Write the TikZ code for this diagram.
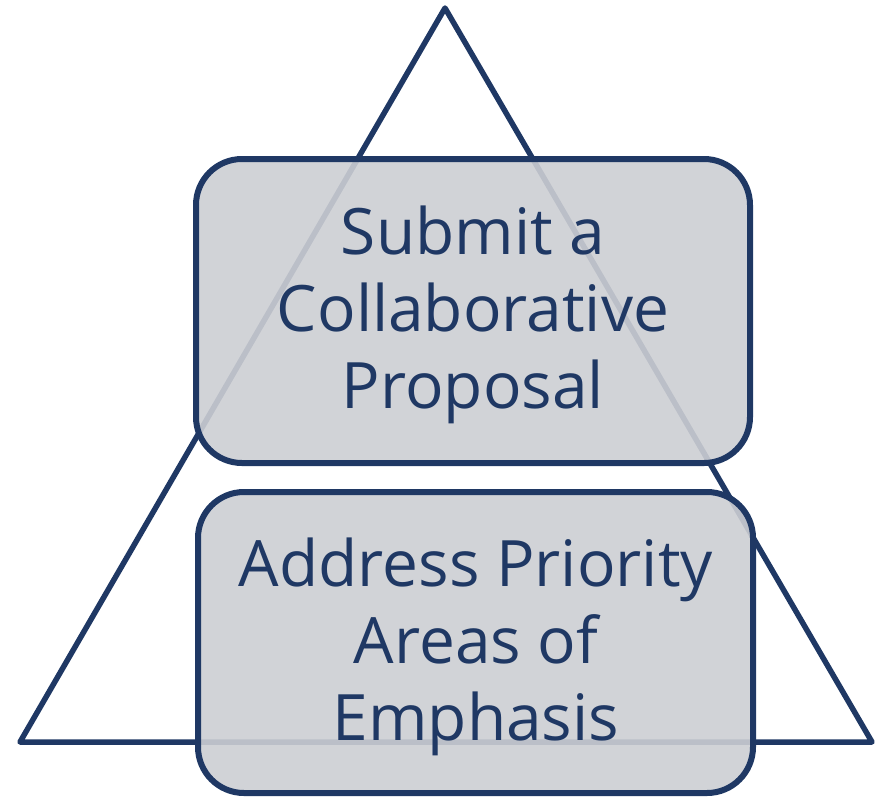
\documentclass[tikz,border=0pt]{standalone}
\usepackage{fontspec}
\setmainfont{Open Sans}
\definecolor{navy}{RGB}{31,56,100}
\definecolor{boxfill}{RGB}{204,206,211}
\begin{document}
\begin{tikzpicture}[x=1pt,y=-1pt,
  tri/.style={draw=navy,line width=5.5pt,line join=round},
  card/.style={draw=navy,line width=6pt,fill=boxfill,fill opacity=0.9,rounded corners=46pt},
  label/.style={text=navy,font=\fontsize{64}{77}\selectfont,align=center}]
\useasboundingbox (0,0) rectangle (881,796);
\coordinate (apex) at (445,8);
\coordinate (bl) at (20,742);
\coordinate (br) at (872,742);
\draw[tri] (apex) -- (br) -- (bl) -- cycle;
\path[card] (196,159) rectangle (750,463);
\path[card] (198,492) rectangle (753,793);
\node[label] (t1) at (473,315) {Submit a\\Collaborative\\Proposal};
\node[label] (t2) at (476,647) {Address Priority\\Areas of\\Emphasis};
\end{tikzpicture}
\end{document}
